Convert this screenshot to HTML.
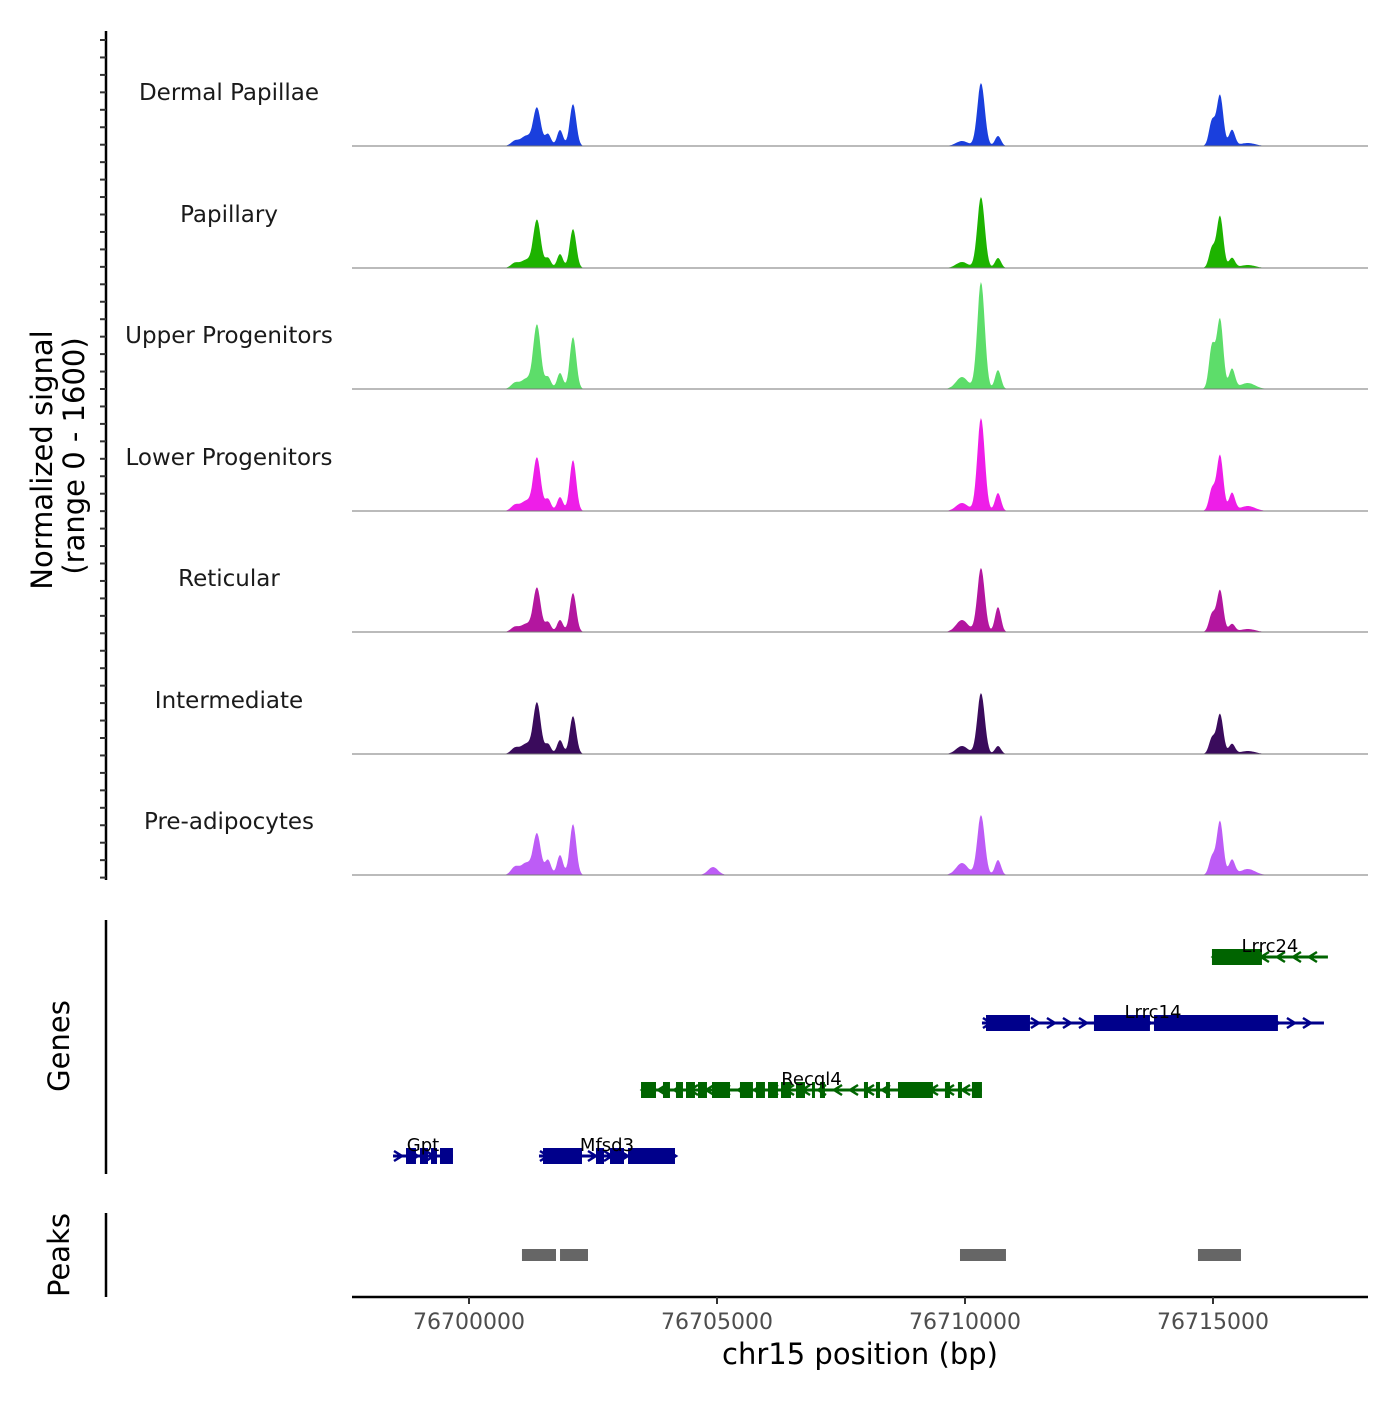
<!DOCTYPE html>
<html><head><meta charset="utf-8"><style>
body{margin:0;background:#fff;}
svg text{font-family:"DejaVu Sans","Liberation Sans",sans-serif;}
</style></head><body>
<svg id="chart" width="1400" height="1400" viewBox="0 0 1400 1400" xmlns="http://www.w3.org/2000/svg">
<g id="tracks"></g>
<g id="genes"></g>
<g id="peaks"></g>
<g id="axes"></g>
</svg>
<script>
const trackNames = ["Dermal Papillae","Papillary","Upper Progenitors","Lower Progenitors","Reticular","Intermediate","Pre-adipocytes"];
const trackColors = ["#1a3fdd","#1db300","#5ddd6a","#ee1ee8","#b3169f","#3a0b5c","#bd5cf6"];
const peakPositions = [76700927,76701150,76701371,76701593,76701835,76702097,76704920,76709940,76710323,76710665,76714980,76715141,76715383,76715700];
const sigDermalPapillae = [66,132,500,158,211,553,0,66,830,132,329,672,211,40];
const sigPapillary = [66,105,632,132,184,514,0,79,935,132,263,685,132,40];
const sigUpperProgenitors = [79,132,843,158,211,685,0,158,1409,250,566,922,263,79];
const sigLowerProgenitors = [79,132,698,158,184,672,0,105,1225,237,290,737,237,66];
const sigReticular = [66,105,580,132,158,514,0,158,843,329,237,553,105,40];
const sigIntermediate = [79,132,672,132,184,500,0,105,803,105,211,527,132,40];
const sigPreAdipocytes = [105,158,540,198,263,672,105,158,790,198,237,711,198,79];
const trackSignals = [sigDermalPapillae,sigPapillary,sigUpperProgenitors,sigLowerProgenitors,sigReticular,sigIntermediate,sigPreAdipocytes];
const xTicks = [76700000,76705000,76710000,76715000];
const xTickLabels = ["76700000","76705000","76710000","76715000"];
const geneNames = ["Gpt","Mfsd3","Recql4","Lrrc14","Lrrc24"];
const geneStarts = [76698468,76701411,76703468,76710342,76714979];
const geneEnds = [76699677,76704153,76710342,76717237,76717317];
const geneStrands = ["+","+","-","+","-"];
const geneRows = [3,3,2,1,0];
const geneExons = [
 [[76698730,76698931],[76699012,76699173],[76699234,76699355],[76699415,76699677]],
 [[76701492,76702278],[76702560,76702722],[76702843,76703125],[76703206,76704153]],
 [[76703468,76703770],[76703911,76704052],[76704173,76704314],[76704375,76704556],[76704617,76704798],[76704899,76705262],[76705463,76705725],[76705786,76705967],[76706028,76706229],[76706290,76706492],[76706592,76706774],[76706915,76706975],[76707076,76707177],[76707963,76708044],[76708205,76708286],[76708407,76708487],[76708649,76709354],[76709596,76709697],[76709858,76709939],[76710140,76710342]],
 [[76710423,76711310],[76712600,76713729],[76713810,76716309]],
 [[76714979,76715987]]
];
const peakStarts = [76701068,76701835,76709899,76714697];
const peakEnds = [76701754,76702399,76710826,76715564];

const NS="http://www.w3.org/2000/svg";
function mk(tag,attrs,parent){const e=document.createElementNS(NS,tag);for(const k in attrs)e.setAttribute(k,attrs[k]);parent.appendChild(e);return e;}
const X0=352,X1=1368;
function xs(bp){return 469+(bp-76700000)*0.0496;}
const bpMin=76700000+(X0-469)/0.0496, bpMax=76700000+(X1-469)/0.0496;
const baselines=[146,268,389,511,632,754,875];
const trackH=121.5, yMax=1600;
const widths=[80,100,75,60,60,65,100,120,75,60,60,65,60,150];

const gT=document.getElementById('tracks');
trackSignals.forEach((sig,t)=>{
  const b=baselines[t];
  let d=`M${X0},${b}`;
  for(let bp=bpMin;bp<=bpMax;bp+=20){
    let v=0;
    for(let i=0;i<peakPositions.length;i++){const z=(bp-peakPositions[i])/widths[i];v+=sig[i]*Math.exp(-z*z/2);}
    d+=` L${xs(bp).toFixed(1)},${(b-v/yMax*trackH).toFixed(1)}`;
  }
  d+=` L${X1},${b} Z`;
  const p=mk('path',{d:d,fill:trackColors[t]},gT);
  
  
  const l=mk('line',{x1:X0,x2:X1,y1:b,y2:b,stroke:'#777','stroke-width':1},gT);
  
  
  const tx=mk('text',{x:229,y:b-46,'text-anchor':'middle','font-size':23,fill:'#1a1a1a'},gT);
  tx.textContent=trackNames[t];
  
  
});

const gG=document.getElementById('genes');
const rowY=[957,1023,1090,1156];
geneNames.forEach((g,i)=>{
  const y=rowY[geneRows[i]], col=(geneStrands[i]=='+')?'#00008b':'#006400';
  const grp=mk('g',{},gG);
  
  
  const x1=xs(geneStarts[i]),x2=xs(geneEnds[i]);
  mk('line',{x1:x1,x2:x2,y1:y,y2:y,stroke:col,'stroke-width':3},grp);
  for(let x=x1+5;x<x2-3;x+=16){
    const dx=geneStrands[i]=='+'?4:-4;
    mk('path',{d:`M${x-dx},${y-5} L${x+dx},${y} L${x-dx},${y+5}`,stroke:col,'stroke-width':2.5,fill:'none'},grp);
  }
  geneExons[i].forEach(e=>{mk('rect',{x:xs(e[0]),y:y-8,width:xs(e[1])-xs(e[0]),height:16,fill:col},grp);});
  const tx=mk('text',{x:(x1+x2)/2,y:y-5,'text-anchor':'middle','font-size':18,fill:'#000'},grp);
  tx.textContent=g;
});

const gP=document.getElementById('peaks');
peakStarts.forEach((s,i)=>{
  const r=mk('rect',{x:xs(s),y:1249,width:xs(peakEnds[i])-xs(s),height:12,fill:'#666'},gP);
  
  
});

const gA=document.getElementById('axes');
mk('line',{x1:106,x2:106,y1:31,y2:880,stroke:'#000','stroke-width':2.5},gA);
for(let y=40;y<=878;y+=17.45){mk('line',{x1:100,x2:106,y1:y,y2:y,stroke:'#333','stroke-width':2},gA);}
mk('line',{x1:106,x2:106,y1:920,y2:1174,stroke:'#000','stroke-width':2.5},gA);
mk('line',{x1:106,x2:106,y1:1213,y2:1297,stroke:'#000','stroke-width':2.5},gA);
mk('line',{x1:X0,x2:X1,y1:1297,y2:1297,stroke:'#000','stroke-width':2.5},gA);
xTicks.forEach((v,i)=>{
  mk('line',{x1:xs(v),x2:xs(v),y1:1297,y2:1304,stroke:'#333','stroke-width':2},gA);
  const t=mk('text',{x:xs(v),y:1329,'text-anchor':'middle','font-size':22,fill:'#4d4d4d'},gA);
  t.textContent=xTickLabels[i];
  
  
});
function rotText(x,y,s,size,name){const t=mk('text',{x:x,y:y,'text-anchor':'middle','font-size':size,fill:'#000',transform:`rotate(-90 ${x} ${y})`},gA);t.textContent=s;}
rotText(52,460,'Normalized signal',29,'y-axis-title');
rotText(84,456,'(range 0 - 1600)',29,'y-axis-subtitle');
rotText(69,1046,'Genes',29,'genes-axis-title');
rotText(69,1255,'Peaks',29,'peaks-axis-title');
const xt=mk('text',{x:860,y:1364,'text-anchor':'middle','font-size':29,fill:'#000'},gA);
xt.textContent='chr15 position (bp)';


</script>
</body></html>
